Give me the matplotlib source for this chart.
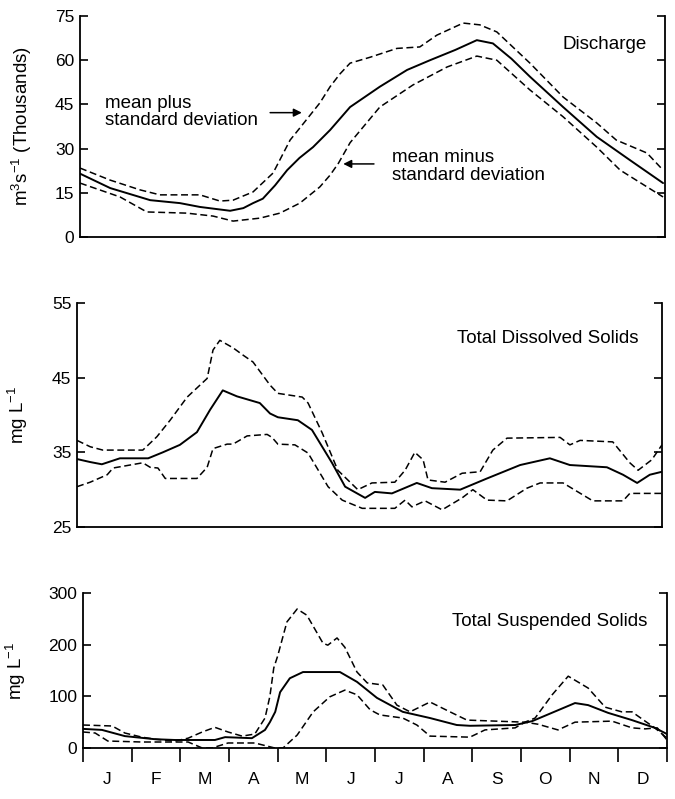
import matplotlib
matplotlib.use("Agg")
import matplotlib.pyplot as plt
from matplotlib.ticker import FixedLocator, NullFormatter, FixedFormatter

plt.rcParams['font.family'] = ['Liberation Sans', 'DejaVu Sans']
plt.rcParams['mathtext.fontset'] = 'custom'
plt.rcParams['mathtext.rm'] = 'Liberation Sans'
plt.rcParams['mathtext.it'] = 'Liberation Sans'
plt.rcParams['lines.scale_dashes'] = False

months = ['J', 'F', 'M', 'A', 'M', 'J', 'J', 'A', 'S', 'O', 'N', 'D']

# ---------------- Discharge (thousand m3/s), x in months from Jan 1 ----------------
q_mean_x = [0.0, 0.62, 1.44, 2.05, 2.46, 3.08, 3.35, 3.55, 3.75, 4.0, 4.25, 4.5, 4.78, 5.13, 5.54, 6.15,
            6.71, 7.18, 7.7, 8.14, 8.47, 8.85, 9.23, 9.91, 10.6, 11.28, 11.96]
q_mean_y = [21.5, 16.6, 12.5, 11.5, 10.2, 8.9, 9.8, 11.5, 13.0, 17.5, 22.7, 26.8, 30.5, 36.3, 44.1, 51.0,
            56.7, 60.0, 63.5, 66.8, 65.7, 60.5, 54.4, 44.1, 34.0, 26.1, 18.3]

q_plus_x = [0.0, 0.62, 1.23, 1.64, 2.46, 2.87, 3.14, 3.55, 3.96, 4.31, 4.51, 4.92, 5.13, 5.33, 5.54,
            5.95, 6.5, 6.97, 7.32, 7.86, 8.2, 8.55, 9.23, 9.91, 10.6, 11.0, 11.63, 11.96]
q_plus_y = [23.4, 19.3, 16.0, 14.3, 14.3, 12.2, 12.5, 15.3, 21.7, 32.9, 37.0, 45.5, 51.0, 55.3, 59.0,
            61.0, 64.0, 64.5, 68.5, 72.6, 72.0, 69.6, 59.0, 47.5, 38.7, 32.9, 28.5, 22.7]

q_minus_x = [0.0, 0.82, 1.37, 2.19, 2.73, 3.14, 3.69, 4.1, 4.51, 4.92, 5.13, 5.3, 5.54, 6.15, 6.83,
             7.53, 8.14, 8.55, 9.23, 9.91, 10.6, 11.08, 11.96]
q_minus_y = [18.3, 13.6, 8.5, 8.1, 7.1, 5.4, 6.4, 8.1, 11.5, 17.0, 21.0, 25.0, 32.0, 44.1, 51.6,
             57.7, 61.4, 60.0, 49.9, 40.8, 30.5, 22.7, 13.6]

# ---------------- Total Dissolved Solids (mg/L) ----------------
tds_mean_x = [0.0, 0.27, 0.51, 0.88, 1.46, 1.76, 2.11, 2.46, 2.73, 2.99, 3.28, 3.75, 3.96, 4.12, 4.53,
              4.82, 5.23, 5.5, 5.91, 6.11, 6.46, 6.97, 7.28, 7.86, 8.41, 9.09, 9.7, 10.11, 10.87,
              11.2, 11.49, 11.75, 12.0]
tds_mean_y = [34.1, 33.7, 33.4, 34.2, 34.2, 35.0, 36.0, 37.7, 40.7, 43.3, 42.5, 41.6, 40.2, 39.7, 39.3,
              38.0, 33.6, 30.4, 28.9, 29.7, 29.5, 30.9, 30.2, 30.0, 31.5, 33.3, 34.2, 33.3, 33.0,
              32.0, 30.9, 32.0, 32.4]

tds_plus_x = [0.0, 0.27, 0.53, 1.35, 1.64, 1.91, 2.26, 2.67, 2.79, 2.93, 3.2, 3.41, 3.61, 3.96, 4.12,
              4.62, 4.74, 5.03, 5.35, 5.76, 6.05, 6.52, 6.73, 6.93, 7.1, 7.2, 7.55, 7.9, 8.27, 8.53,
              8.82, 9.91, 10.11, 10.32, 10.99, 11.34, 11.51, 11.79, 12.0]
tds_plus_y = [36.6, 35.75, 35.3, 35.3, 37.1, 39.3, 42.4, 44.9, 48.7, 50.0, 49.0, 48.0, 47.1, 44.0, 42.9,
              42.4, 41.6, 37.6, 32.6, 30.0, 30.9, 31.0, 32.6, 35.0, 34.0, 31.3, 31.0, 32.2, 32.4, 35.3,
              36.9, 37.0, 36.0, 36.6, 36.4, 33.6, 32.6, 34.0, 36.0]

tds_minus_x = [0.0, 0.27, 0.62, 0.74, 1.35, 1.5, 1.66, 1.81, 2.46, 2.67, 2.79, 3.08, 3.2, 3.49, 3.9,
               4.0, 4.12, 4.47, 4.74, 5.15, 5.44, 5.85, 6.52, 6.73, 6.87, 7.14, 7.49, 7.9, 8.12,
               8.41, 8.82, 9.23, 9.5, 9.97, 10.58, 11.2, 11.34, 12.0]
tds_minus_y = [30.4, 31.0, 32.0, 32.9, 33.6, 33.0, 32.9, 31.5, 31.5, 33.0, 35.5, 36.1, 36.1, 37.2, 37.4,
               37.0, 36.1, 36.0, 34.9, 30.4, 28.6, 27.5, 27.5, 28.6, 27.7, 28.5, 27.3, 28.9, 30.0,
               28.6, 28.5, 30.2, 30.9, 30.9, 28.5, 28.5, 29.5, 29.5]

# ---------------- Total Suspended Solids (mg/L) ----------------
tss_mean_x = [0.0, 0.39, 0.86, 1.48, 1.89, 2.71, 2.92, 3.47, 3.74, 3.84, 3.95, 4.05, 4.25, 4.52, 5.28,
              5.63, 6.04, 6.57, 7.13, 7.68, 7.95, 8.88, 9.23, 10.11, 10.38, 10.79, 11.28, 11.75, 12.0]
tss_mean_y = [37, 35, 23, 17, 15.5, 15.5, 21, 19, 35, 50, 70, 108, 135, 147, 147,
              128, 97, 70, 58, 44.5, 43, 44.5, 52, 87, 83, 68, 54, 39, 27]

tss_plus_x = [0.0, 0.6, 0.86, 1.21, 1.48, 1.89, 2.16, 2.45, 2.71, 2.98, 3.27, 3.53, 3.74, 3.84, 3.92,
              4.0, 4.19, 4.4, 4.6, 4.93, 5.03, 5.22, 5.38, 5.63, 5.84, 6.16, 6.45, 6.72, 7.13, 7.54,
              7.89, 9.08, 9.29, 9.64, 9.97, 10.38, 10.73, 11.07, 11.28, 11.55, 11.75, 12.0]
tss_plus_y = [44.5, 42.6, 29, 21, 17, 13.5, 19, 31, 40, 31, 23, 27, 58, 100, 155,
              178, 244, 269, 257, 203, 199, 213, 195, 147, 126, 122, 83, 70, 89, 70,
              54, 50, 58, 103, 139, 116, 79, 70, 70, 52, 39, 19]

tss_minus_x = [0.0, 0.25, 0.51, 1.21, 2.16, 2.45, 2.65, 2.98, 3.53, 3.94, 4.11, 4.4, 4.73, 5.07, 5.38,
               5.63, 5.9, 6.1, 6.57, 6.86, 7.13, 7.95, 8.26, 8.88, 9.08, 9.35, 9.76, 10.11, 10.87,
               11.28, 11.55, 11.8, 12.0]
tss_minus_y = [31, 29, 13.5, 11.6, 11.6, 0, 0, 9.7, 9.7, 0, 0, 25, 70, 99, 112,
               103, 74, 64, 58, 44.5, 23, 21, 35, 39, 50, 46, 35, 50, 52,
               39, 37, 39, 15.5]

W, H = 675, 799
fig = plt.figure(figsize=(W / 100, H / 100), dpi=100)

def px_axes(l, r, t, b):
    return fig.add_axes([l / W, 1 - b / H, (r - l) / W, (b - t) / H])

ax1 = px_axes(80, 665, 16, 237)
ax2 = px_axes(77, 662, 303, 527)
ax3 = px_axes(83, 667, 593, 748)

solid_kw = dict(color='black', lw=1.4, solid_capstyle='round', solid_joinstyle='round')
dash_kw = dict(color='black', lw=1.1, dashes=(5.0, 2.6), dash_joinstyle='round')

for ax, (mx, my, px_, py_, nx, ny) in zip(
        [ax1, ax2, ax3],
        [(q_mean_x, q_mean_y, q_plus_x, q_plus_y, q_minus_x, q_minus_y),
         (tds_mean_x, tds_mean_y, tds_plus_x, tds_plus_y, tds_minus_x, tds_minus_y),
         (tss_mean_x, tss_mean_y, tss_plus_x, tss_plus_y, tss_minus_x, tss_minus_y)]):
    ax.plot(px_, py_, **dash_kw)
    ax.plot(nx, ny, **dash_kw)
    ax.plot(mx, my, **solid_kw)
    ax.set_xlim(0, 12)
    ax.spines['top'].set_visible(False)
    for s in ['left', 'right', 'bottom']:
        ax.spines[s].set_linewidth(1.3)
    ax.tick_params(axis='y', which='both', direction='in', length=6, width=1.2,
                   left=True, right=True, labelsize=12.5, pad=4)
    ax.patch.set_alpha(0)

# panel 1
ax1.set_ylim(0, 75)
ax1.set_yticks([0, 15, 30, 45, 60, 75])
ax1.set_xticks([])
ax1.set_ylabel(r'm$^{\mathregular{3}}$s$^{\mathregular{-1}}$ (Thousands)', fontsize=13.5)
ax1.yaxis.set_label_coords(-0.078, 0.5)
ax1.text(11.63, 65.2, 'Discharge', ha='right', va='center', fontsize=13.5)
ax1.text(0.51, 42.4, 'mean plus\nstandard deviation', ha='left', va='center',
         fontsize=13.5, linespacing=1.05)
ax1.annotate('', xy=(4.55, 42.2), xytext=(3.9, 42.2),
             arrowprops=dict(arrowstyle='-|>', color='black', lw=1.1,
                             mutation_scale=12, shrinkA=0, shrinkB=0))
ax1.text(6.4, 23.9, 'mean minus\nstandard deviation', ha='left', va='center',
         fontsize=13.5, linespacing=1.05)
ax1.annotate('', xy=(5.4, 24.8), xytext=(6.03, 24.8),
             arrowprops=dict(arrowstyle='-|>', color='black', lw=1.1,
                             mutation_scale=12, shrinkA=0, shrinkB=0))

# panel 2
ax2.set_ylim(25, 55)
ax2.set_yticks([25, 35, 45, 55])
ax2.set_xticks([])
ax2.set_ylabel(r'mg L$^{\mathregular{-1}}$', fontsize=13.5)
ax2.yaxis.set_label_coords(-0.08, 0.5)
ax2.text(11.51, 50.3, 'Total Dissolved Solids', ha='right', va='center', fontsize=13.5)

# panel 3
ax3.set_ylim(0, 300)
ax3.set_yticks([0, 100, 200, 300])
ax3.set_ylabel(r'mg L$^{\mathregular{-1}}$', fontsize=13.5)
ax3.yaxis.set_label_coords(-0.095, 0.5)
ax3.text(11.59, 244, 'Total Suspended Solids', ha='right', va='center', fontsize=13.5)
ax3.xaxis.set_major_locator(FixedLocator(list(range(13))))
ax3.xaxis.set_major_formatter(NullFormatter())
ax3.xaxis.set_minor_locator(FixedLocator([i + 0.5 for i in range(12)]))
ax3.xaxis.set_minor_formatter(FixedFormatter(months))
ax3.tick_params(axis='x', which='major', direction='out', length=10, width=1.2)
ax3.tick_params(axis='x', which='minor', length=0, pad=17, labelsize=12.5)

fig.savefig('out.png', dpi=100)
